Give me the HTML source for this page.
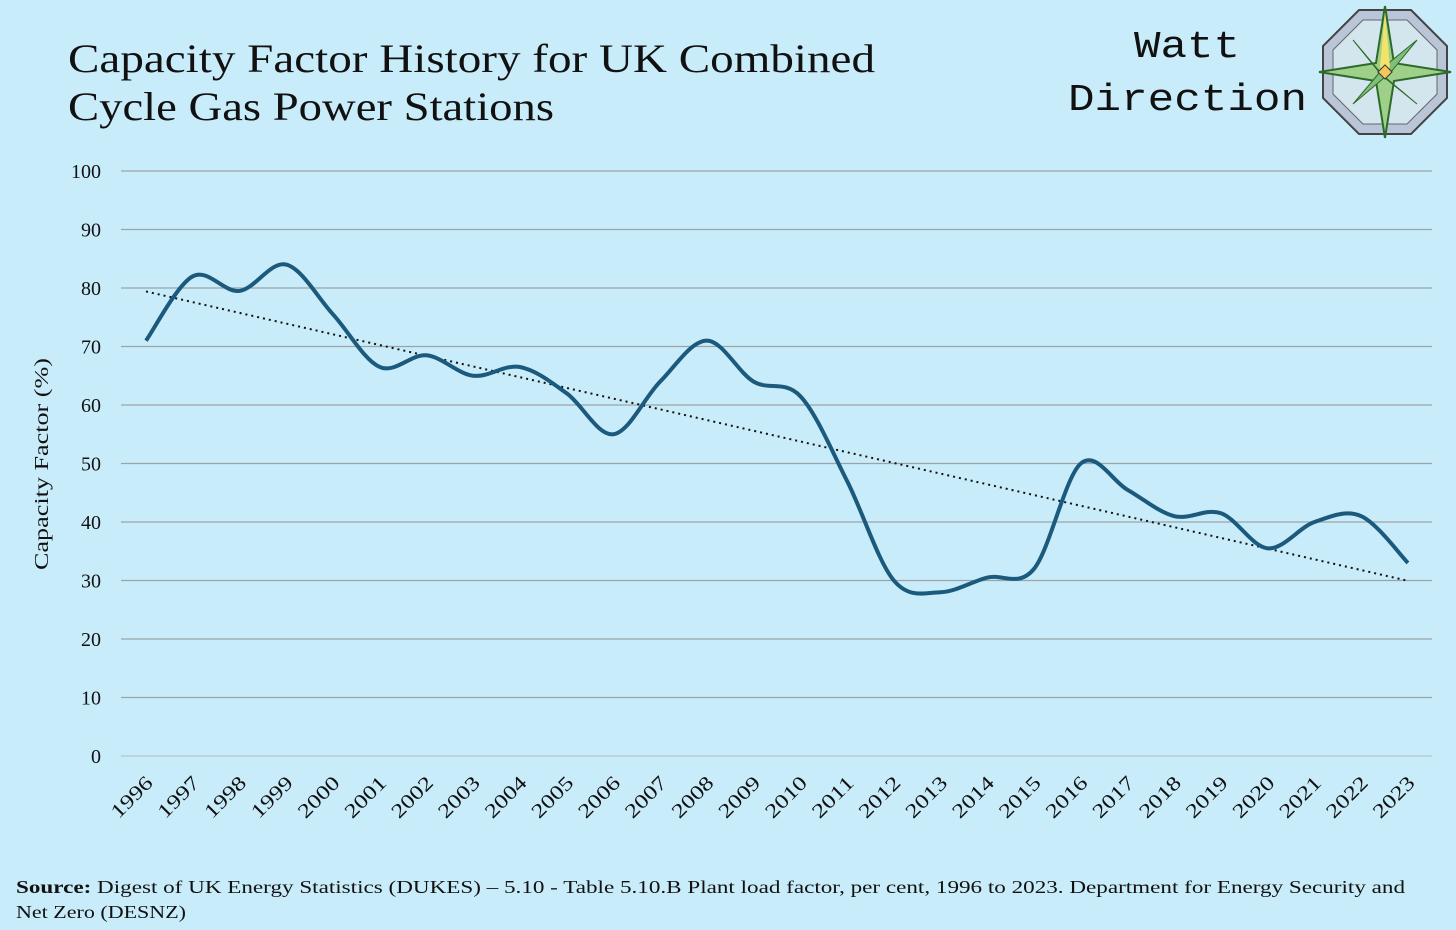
<!DOCTYPE html>
<html><head><meta charset="utf-8"><style>
html,body{margin:0;padding:0;background:#c9ecfa;}
svg{display:block;}
</style></head><body>
<svg id="chart" width="1456" height="930" viewBox="0 0 1456 930" xmlns="http://www.w3.org/2000/svg">
<rect width="1456" height="930" fill="#c9ecfa"/>
<text x="68" y="72" textLength="807" lengthAdjust="spacingAndGlyphs" font-family="Liberation Serif, serif" font-size="40" fill="#111">Capacity Factor History for UK Combined</text>
<text x="68" y="120" textLength="486" lengthAdjust="spacingAndGlyphs" font-family="Liberation Serif, serif" font-size="40" fill="#111">Cycle Gas Power Stations</text>
<text x="1134" y="57" textLength="106" lengthAdjust="spacingAndGlyphs" font-family="Liberation Mono, monospace" font-size="38" fill="#111">Watt</text>
<text x="1068" y="110" textLength="239" lengthAdjust="spacingAndGlyphs" font-family="Liberation Mono, monospace" font-size="38" fill="#111">Direction</text>
<g transform="translate(1385,72)">
<polygon points="26,-62 62,-26 62,26 26,62 -26,62 -62,26 -62,-26 -26,-62" fill="#b8c6d8" stroke="#444" stroke-width="2"/>
<polygon points="22,-52 52,-22 52,22 22,52 -22,52 -52,22 -52,-22 -22,-52" fill="#d3e6ee" stroke="#666" stroke-width="1"/>
<polygon points="0,-66 9,-9 66,0 9,9 0,66 -9,9 -66,0 -9,-9" fill="#9fd08a" stroke="#2d6a2a" stroke-width="2"/>
<polygon points="32,-32 6,0 -32,32 0,-6" fill="#7fbf7a" stroke="#2d6a2a" stroke-width="1"/>
<polygon points="-32,-32 0,6 32,32 -6,0" fill="#7fbf7a" stroke="#2d6a2a" stroke-width="1"/>
<polygon points="0,-60 5,-5 0,0 -5,-5" fill="#f3e36a"/>
<rect x="-5" y="-5" width="10" height="10" transform="rotate(45)" fill="#f2c85a" stroke="#333"/>
</g>
<g id="grid"></g>
<g id="yticks"></g>
<g id="xticks"></g>
<text transform="translate(48,464) rotate(-90)" text-anchor="middle" textLength="212" lengthAdjust="spacingAndGlyphs" font-family="Liberation Serif, serif" font-size="20" fill="#111">Capacity Factor (%)</text>
<path id="trend" fill="none" stroke="#111" stroke-width="2" stroke-dasharray="2,4"/>
<path id="series" fill="none" stroke="#1b5a7c" stroke-width="4" stroke-linejoin="round"/>
<text x="16" y="893" textLength="1389" lengthAdjust="spacingAndGlyphs" font-family="Liberation Serif, serif" font-size="18" fill="#111"><tspan font-weight="bold">Source:</tspan> Digest of UK Energy Statistics (DUKES) – 5.10 - Table 5.10.B Plant load factor, per cent, 1996 to 2023. Department for Energy Security and</text>
<text x="16" y="918" textLength="170" lengthAdjust="spacingAndGlyphs" font-family="Liberation Serif, serif" font-size="18" fill="#111">Net Zero (DESNZ)</text>
</svg>
<script>
const years = [1996,1997,1998,1999,2000,2001,2002,2003,2004,2005,2006,2007,2008,2009,2010,2011,2012,2013,2014,2015,2016,2017,2018,2019,2020,2021,2022,2023];
const values = [71,82,79.5,84,75.5,66.5,68.5,65,66.5,62,55,64,71,64,61.5,47,30,28,30.5,32,50,45.5,41,41.5,35.5,40,41,33];
const yTicks = [0,10,20,30,40,50,60,70,80,90,100];
const NS='http://www.w3.org/2000/svg';
const x0=146,x1=1408,yBase=756,yTop=171;
function xs(i){return x0+(x1-x0)*i/(years.length-1);}
function ys(v){return yBase-(yBase-yTop)*v/100;}
const grid=document.getElementById('grid'),yt=document.getElementById('yticks'),xt=document.getElementById('xticks');
yTicks.forEach(t=>{
 const l=document.createElementNS(NS,'line');
 l.setAttribute('x1',121);l.setAttribute('x2',1432);l.setAttribute('y1',ys(t));l.setAttribute('y2',ys(t));
 l.setAttribute('stroke',t===0?'#b5c4cc':'#9aa3a8');l.setAttribute('stroke-width',1.3);
 
 
 grid.appendChild(l);
 const tx=document.createElementNS(NS,'text');
 tx.setAttribute('x',101);tx.setAttribute('y',ys(t)+7);tx.setAttribute('text-anchor','end');
 tx.setAttribute('font-family','Liberation Serif, serif');tx.setAttribute('font-size','20');tx.setAttribute('fill','#111');
 tx.textContent=t;
 
 
 yt.appendChild(tx);
});
years.forEach((y,i)=>{
 const tx=document.createElementNS(NS,'text');
 const x=xs(i)+8,yy=784;
 tx.setAttribute('transform','translate('+x+','+yy+') rotate(-45)');
 tx.setAttribute('text-anchor','end');
 tx.setAttribute('font-family','Liberation Serif, serif');tx.setAttribute('font-size','20');tx.setAttribute('fill','#111');
 tx.setAttribute('textLength','50');tx.setAttribute('lengthAdjust','spacingAndGlyphs');
 tx.textContent=y;
 
 
 xt.appendChild(tx);
});
const pts=values.map((v,i)=>[xs(i),ys(v)]);
let d='M'+pts[0][0]+','+pts[0][1];
for(let i=0;i<pts.length-1;i++){
 const p0=pts[i-1]||pts[i],p1=pts[i],p2=pts[i+1],p3=pts[i+2]||p2;
 const c1=[p1[0]+(p2[0]-p0[0])/6,p1[1]+(p2[1]-p0[1])/6];
 const c2=[p2[0]-(p3[0]-p1[0])/6,p2[1]-(p3[1]-p1[1])/6];
 d+=' C'+c1+' '+c2+' '+p2;
}
document.getElementById('series').setAttribute('d',d);
const n=values.length;let sx=0,sy=0,sxy=0,sxx=0;
values.forEach((v,i)=>{sx+=i;sy+=v;sxy+=i*v;sxx+=i*i;});
const b=(n*sxy-sx*sy)/(n*sxx-sx*sx),a=(sy-b*sx)/n;
document.getElementById('trend').setAttribute('d','M'+xs(0)+','+ys(a)+' L'+xs(n-1)+','+ys(a+b*(n-1)));
</script>
</body></html>
